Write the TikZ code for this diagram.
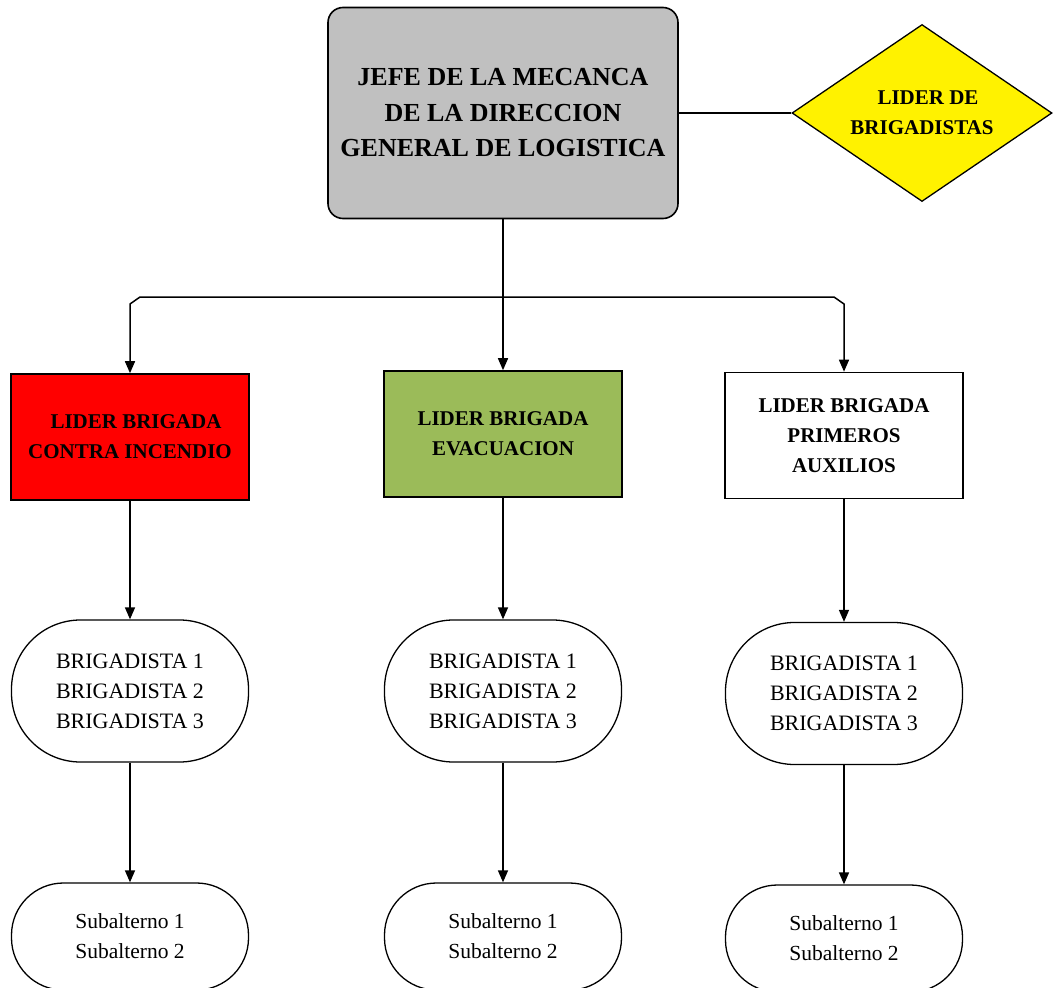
\documentclass[tikz,border=0pt]{standalone}
\usepackage{fontspec}
\setmainfont{Liberation Serif}
\usetikzlibrary{shapes.geometric,arrows.meta,calc}
\definecolor{grisjefe}{HTML}{C0C0C0}
\definecolor{verdeevac}{HTML}{9BBB59}
\tikzset{
  caja/.style={draw, line width=1.6pt, minimum width=238pt, minimum height=126pt,
    inner sep=0pt, align=center, font=\fontsize{21}{30}\selectfont\bfseries},
  ovalo/.style={draw, line width=1.3pt, rounded corners=69pt, minimum width=237pt,
    minimum height=142pt, inner sep=0pt, align=center, font=\fontsize{22}{30}\selectfont},
  subovalo/.style={ovalo, rounded corners=52pt, minimum height=107pt,
    font=\fontsize{21.5}{30}\selectfont},
  flecha/.style={line width=1.5pt, -{Triangle[width=10pt,length=12pt]}},
  linea/.style={line width=1.5pt}
}
\begin{document}
\begin{tikzpicture}[x=1pt,y=-1pt]
\useasboundingbox (0,0) rectangle (1053,988);
% jefe y lider de brigadistas
\node[draw, line width=1.6pt, fill=grisjefe, rounded corners=15pt, minimum width=350pt,
  minimum height=211pt, align=center, font=\fontsize{26}{35.5}\selectfont\bfseries]
  (jefe) at (503,113) {JEFE DE LA MECANCA\\DE LA DIRECCION\\GENERAL DE LOGISTICA};
\node[draw, line width=1.3pt, fill=yellow, diamond, aspect=1.47, minimum width=260pt,
  minimum height=177pt, inner sep=0pt, align=center, font=\fontsize{21}{30}\selectfont\bfseries]
  (liderb) at (922,113) {\hspace*{12pt}LIDER DE\\BRIGADISTAS};
\draw[linea] (jefe.east) -- (liderb.west);
% lideres de brigada
\node[caja, fill=red] (incendio) at (130,437) {\hspace*{12pt}LIDER BRIGADA\\CONTRA INCENDIO};
\node[caja, fill=verdeevac] (evac) at (503,434) {LIDER BRIGADA\\EVACUACION};
\node[caja, fill=white] (auxilios) at (844,435.5) {LIDER BRIGADA\\PRIMEROS\\AUXILIOS};
\coordinate (bus) at (503,297);
\draw[flecha] (jefe.south) -- (evac.north);
\draw[flecha] (bus) -- ($(bus -| incendio.north)+(10,0)$) -- ($(bus -| incendio.north)+(0,7)$) -- (incendio.north);
\draw[flecha] (bus) -- ($(bus -| auxilios.north)+(-10,0)$) -- ($(bus -| auxilios.north)+(0,7)$) -- (auxilios.north);
% brigadistas
\node[ovalo] (brig1) at (130,691) {BRIGADISTA 1\\BRIGADISTA 2\\BRIGADISTA 3};
\node[ovalo] (brig2) at (503,691) {BRIGADISTA 1\\BRIGADISTA 2\\BRIGADISTA 3};
\node[ovalo] (brig3) at (844,693.5) {BRIGADISTA 1\\BRIGADISTA 2\\BRIGADISTA 3};
\draw[flecha] (incendio.south) -- (brig1.north);
\draw[flecha] (evac.south) -- (brig2.north);
\draw[flecha] (auxilios.south) -- (brig3.north);
% subalternos
\node[subovalo] (sub1) at (130,936.5) {Subalterno 1\\Subalterno 2};
\node[subovalo] (sub2) at (503,936.5) {Subalterno 1\\Subalterno 2};
\node[subovalo] (sub3) at (844,938.5) {Subalterno 1\\Subalterno 2};
\draw[flecha] (brig1.south) -- (sub1.north);
\draw[flecha] (brig2.south) -- (sub2.north);
\draw[flecha] (brig3.south) -- (sub3.north);
\end{tikzpicture}
\end{document}
